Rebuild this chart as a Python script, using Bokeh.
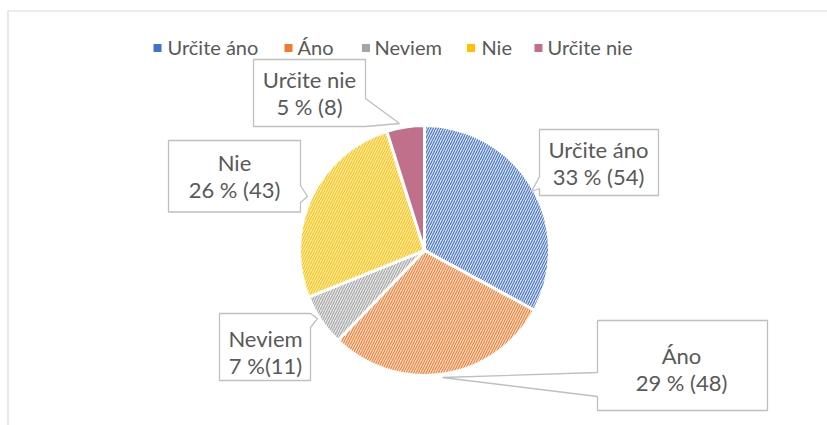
import math
from bokeh.plotting import figure
from bokeh.models import ColumnDataSource, Range1d
from bokeh.core.properties import value
from bokeh.embed import file_html
from bokeh.resources import INLINE

# ---- data ----
categories = ["Určite áno", "Áno", "Neviem", "Nie", "Určite nie"]
counts = [54, 48, 11, 43, 8]
percent_labels = ["33 % (54)", "29 % (48)", "7 %(11)", "26 % (43)", "5 % (8)"]
colors = ["#4472C4", "#ED7D31", "#A5A5A5", "#FFC000", "#C0708A"]
tints = ["#DCE5F6", "#FCDFCC", "#E8E8E8", "#FFEFBF", "#C0708A"]
hatches = ["/", "/", "/", "/", " "]

# ---- layout (page pixels; Bokeh's page has no body margin) ----
OX, OY = 0, 0              # figure origin on page
W, H = 827, 425
CX, CY = 424, 250          # pie centre on page
R = 125                    # pie radius in px
FONT = "Lato"
TXT = "#595959"


def px(X, Y):
    return X - CX, CY - Y


p = figure(width=W, height=H, output_backend="svg", toolbar_location=None,
           x_range=Range1d(OX - CX, OX + W - CX), y_range=Range1d(CY - OY - H, CY - OY),
           min_border=0, outline_line_color=None)
p.axis.visible = False
p.grid.visible = False

# chart border (left + top)
bx = [px(7.5, 600)[0], px(7.5, 10.5)[0], px(900, 10.5)[0]]
by = [px(7.5, 600)[1], px(7.5, 10.5)[1], px(900, 10.5)[1]]
p.line(bx, by, line_color="#D9D9D9", line_width=1.2)

# ---- pie ----
total = sum(counts)
starts, ends = [], []
acc = 0
for c in counts:
    starts.append(math.pi / 2 - 2 * math.pi * acc / total)
    acc += c
    ends.append(math.pi / 2 - 2 * math.pi * acc / total)

src = ColumnDataSource(dict(start=starts, end=ends, fill=tints, hc=colors, hp=hatches,
                            cat=categories))
p.wedge(x=0, y=0, radius=R, start_angle="start", end_angle="end", direction="clock",
        source=src, fill_color="fill", hatch_color="hc", hatch_pattern="hp",
        hatch_scale=5, hatch_weight=1.1, line_color="white", line_width=3)

# ---- legend (manual) ----
leg_sq_x = [157, 288, 365.5, 470.5, 538]
leg_tx_x = [167, 297, 374, 481, 547]
leg_y = 47.5
lsrc = ColumnDataSource(dict(
    x=[px(x, 0)[0] for x in leg_sq_x], y=[px(0, leg_y)[1]] * 5,
    tx=[px(x, 0)[0] for x in leg_tx_x], ty=[px(0, leg_y - 1)[1]] * 5,
    c=colors, cat=categories))
p.scatter(x="x", y="y", marker="square", size=8, fill_color="c", line_color=None, source=lsrc)
p.text(x="tx", y="ty", text="cat", source=lsrc, text_font=value(FONT), text_font_size="20px",
       text_color=TXT, text_baseline="middle", text_align="left")

# ---- callouts ----
callouts = [
    [(539, 129), (658, 129), (658, 195), (539, 195), (539, 188), (531, 191), (539, 176)],
    [(597, 320), (767, 320), (767, 410), (597, 410), (597, 396), (442, 377), (597, 372)],
    [(219, 313), (310, 313), (317, 318), (310, 327), (310, 380), (219, 380)],
    [(168, 140), (300, 140), (300, 185), (307, 196), (300, 202), (300, 211.5), (168, 211.5)],
    [(253, 59), (365, 59), (365, 98), (399, 123), (365, 126), (253, 126)],
]
xs = [[px(a, b)[0] for a, b in poly] for poly in callouts]
ys = [[px(a, b)[1] for a, b in poly] for poly in callouts]
p.patches(xs, ys, fill_color="white", line_color="#BFBFBF", line_width=1.3)

lab_cx = [598, 681, 265, 234, 309]
lab_m1 = [148.5, 354.5, 337.5, 161.5, 78.5]
lab_m2 = [175.5, 381.5, 364.5, 188.5, 105.5]
tsrc = ColumnDataSource(dict(
    x=[px(x, 0)[0] for x in lab_cx],
    y1=[px(0, y)[1] for y in lab_m1], y2=[px(0, y)[1] for y in lab_m2],
    t1=categories, t2=percent_labels))
p.text(x="x", y="y1", text="t1", source=tsrc, text_font=value(FONT), text_font_size="22px",
       text_color=TXT, text_baseline="middle", text_align="center")
p.text(x="x", y="y2", text="t2", source=tsrc, text_font=value(FONT), text_font_size="22px",
       text_color=TXT, text_baseline="middle", text_align="center")

open("out.html", "w").write(file_html(p, INLINE))
